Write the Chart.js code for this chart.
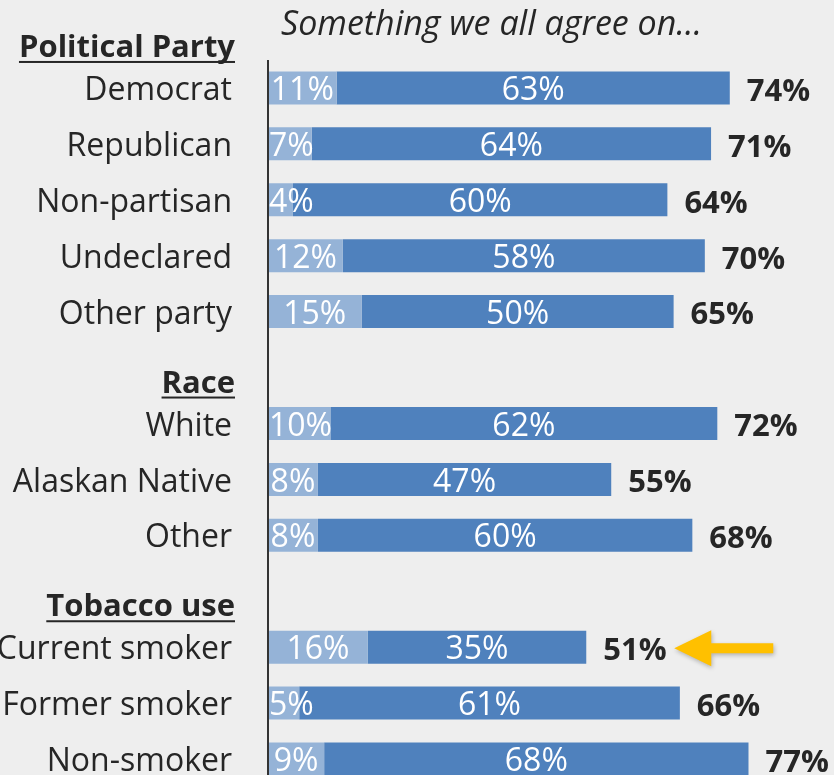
<!DOCTYPE html>
<html>
<head>
<meta charset="utf-8">
<script src="https://cdn.jsdelivr.net/npm/chart.js@4/dist/chart.umd.min.js"></script>
<style>
html,body{margin:0;padding:0;background:#eeeeee;overflow:hidden;}
#wrap{position:relative;width:834px;height:787px;}
</style>
</head>
<body>
<div id="wrap"><canvas id="myChart" width="834" height="787"></canvas></div>
<script>
// rows: header rows have null values
var categorias=['Political Party','Democrat','Republican','Non-partisan','Undeclared','Other party','Race','White','Alaskan Native','Other','Tobacco use','Current smoker','Former smoker','Non-smoker'];
var esTitulo=[true,false,false,false,false,false,true,false,false,false,true,false,false,false];
var claro=[null,11,7,4,12,15,null,10,8,8,null,16,5,9];
var oscuro=[null,63,64,60,58,50,null,62,47,60,null,35,61,68];
var total=[null,74,71,64,70,65,null,72,55,68,null,51,66,77];
var destacado='Current smoker';
var titulo='Something we all agree on\u2026';

var fuente='"Open Sans", sans-serif';
var colorTexto='#262626';

var etiquetas=categorias.map(function(c,i){return esTitulo[i]?'':c;});

var pluginTextos={
	id:'textos',
	afterDatasetsDraw:function(chart){
		var ctx=chart.ctx;
		var yScale=chart.scales.y;
		var area=chart.chartArea;
		ctx.save();
		// axis line
		ctx.strokeStyle='#333';
		ctx.lineWidth=2;
		ctx.beginPath();
		ctx.moveTo(area.left,60);
		ctx.lineTo(area.left,area.bottom+10);
		ctx.stroke();

		// title
		ctx.fillStyle=colorTexto;
		ctx.font='italic 34px '+fuente;
		ctx.textAlign='left';
		ctx.textBaseline='middle';
		ctx.fillText(titulo,area.left+13,25);

		// group headers
		ctx.font='bold 31px '+fuente;
		ctx.textAlign='right';
		ctx.textBaseline='alphabetic';
		for(var i=0;i<categorias.length;i++){
			if(!esTitulo[i]) continue;
			var y=yScale.getPixelForValue(i)+25;
			var x=area.left-33;
			var w=ctx.measureText(categorias[i]).width;
			ctx.fillText(categorias[i],x,y);
			ctx.fillRect(x-w,y+4,w,2);
		}

		// segment labels
		var m0=chart.getDatasetMeta(0);
		var m1=chart.getDatasetMeta(1);
		ctx.textAlign='center';
		ctx.textBaseline='middle';
		ctx.font='32px '+fuente;
		ctx.fillStyle='#ffffff';
		for(var j=0;j<categorias.length;j++){
			if(esTitulo[j]) continue;
			var b0=m0.data[j], b1=m1.data[j];
			var t0=claro[j]+'%';
			var cx=Math.max((b0.base+b0.x)/2,b0.base+ctx.measureText(t0).width/2+1);
			ctx.fillText(t0,cx,b0.y+3);
			ctx.fillText(oscuro[j]+'%',(b1.base+b1.x)/2,b1.y+3);
		}
		// totals
		ctx.font='bold 31px '+fuente;
		ctx.fillStyle=colorTexto;
		ctx.textAlign='left';
		for(var k=0;k<categorias.length;k++){
			if(esTitulo[k]) continue;
			var b=m1.data[k];
			ctx.fillText(total[k]+'%',b.x+17,b.y+4);
			if(categorias[k]==destacado){
				var tx=b.x+88, ty=b.y+1;
				ctx.save();
				ctx.shadowColor='rgba(0,0,0,0.25)';
				ctx.shadowBlur=4;
				ctx.shadowOffsetX=1;
				ctx.shadowOffsetY=2;
				ctx.fillStyle='#ffc000';
				ctx.beginPath();
				ctx.moveTo(tx,ty);
				ctx.lineTo(tx+37,ty-18);
				ctx.lineTo(tx+37,ty-5);
				ctx.lineTo(tx+99,ty-5);
				ctx.lineTo(tx+99,ty+5);
				ctx.lineTo(tx+37,ty+5);
				ctx.lineTo(tx+37,ty+18);
				ctx.closePath();
				ctx.fill();
				ctx.restore();
			}
		}
		ctx.restore();
	}
};

var ctx=document.getElementById('myChart').getContext('2d');
var grafico=new Chart(ctx,{
	type:'bar',
	data:{
		labels:etiquetas,
		datasets:[{
			label:'claro',
			data:claro,
			backgroundColor:'#95b3d7',
			barPercentage:0.59,
			categoryPercentage:1
		},{
			label:'oscuro',
			data:oscuro,
			backgroundColor:'#4f81bd',
			barPercentage:0.59,
			categoryPercentage:1
		}]
	},
	options:{
		indexAxis:'y',
		responsive:false,
		animation:false,
		events:[],
		layout:{padding:{top:4,bottom:0,left:0,right:0}},
		plugins:{
			legend:{display:false},
			tooltip:{enabled:false},
			title:{display:false}
		},
		scales:{
			x:{
				stacked:true,
				display:false,
				min:0,
				max:90.7
			},
			y:{
				stacked:true,
				grid:{display:false,drawTicks:false},
				border:{display:false},
				afterFit:function(s){
					s.width=268;
					s.paddingTop=0;
					s.paddingBottom=0;
				},
				ticks:{
					padding:36,
					labelOffset:3,
					color:colorTexto,
					font:{family:'"Open Sans", sans-serif',size:32}
				}
			}
		}
	},
	plugins:[pluginTextos]
});
</script>
</body>
</html>
